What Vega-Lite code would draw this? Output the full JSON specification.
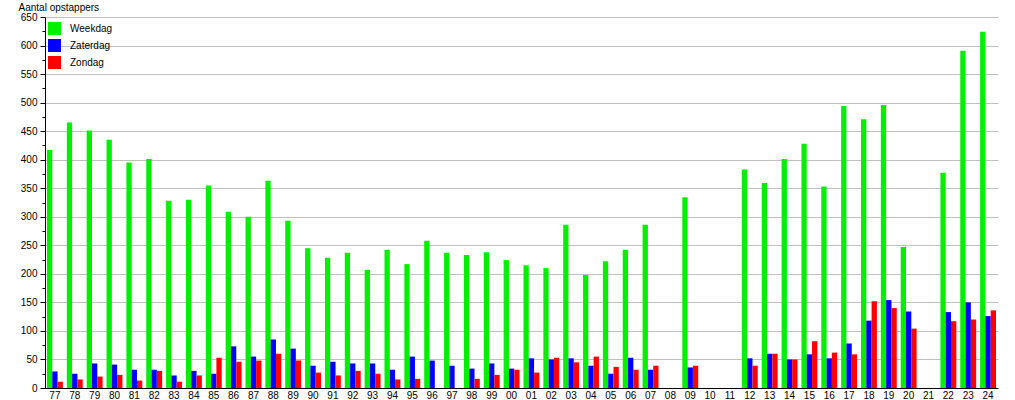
{
  "$schema": "https://vega.github.io/schema/vega-lite/v6.json",
  "width": 953,
  "height": 371,
  "autosize": "none",
  "padding": {"left": 45, "top": 17, "right": 17, "bottom": 12},
  "background": "white",
  "config": {
    "font": "Liberation Sans",
    "view": {"stroke": null},
    "axis": {"labelFont": "Liberation Sans", "titleFont": "Liberation Sans", "labelColor": "black", "titleColor": "black"}
  },
  "data": {
    "values": [
      {"year": "77", "type": "Weekdag", "value": 417}, {"year": "77", "type": "Zaterdag", "value": 29}, {"year": "77", "type": "Zondag", "value": 11},
      {"year": "78", "type": "Weekdag", "value": 465}, {"year": "78", "type": "Zaterdag", "value": 25}, {"year": "78", "type": "Zondag", "value": 15},
      {"year": "79", "type": "Weekdag", "value": 451}, {"year": "79", "type": "Zaterdag", "value": 43}, {"year": "79", "type": "Zondag", "value": 20},
      {"year": "80", "type": "Weekdag", "value": 435}, {"year": "80", "type": "Zaterdag", "value": 41}, {"year": "80", "type": "Zondag", "value": 23},
      {"year": "81", "type": "Weekdag", "value": 395}, {"year": "81", "type": "Zaterdag", "value": 32}, {"year": "81", "type": "Zondag", "value": 13},
      {"year": "82", "type": "Weekdag", "value": 401}, {"year": "82", "type": "Zaterdag", "value": 32}, {"year": "82", "type": "Zondag", "value": 30},
      {"year": "83", "type": "Weekdag", "value": 328}, {"year": "83", "type": "Zaterdag", "value": 22}, {"year": "83", "type": "Zondag", "value": 11},
      {"year": "84", "type": "Weekdag", "value": 330}, {"year": "84", "type": "Zaterdag", "value": 30}, {"year": "84", "type": "Zondag", "value": 22},
      {"year": "85", "type": "Weekdag", "value": 355}, {"year": "85", "type": "Zaterdag", "value": 25}, {"year": "85", "type": "Zondag", "value": 53},
      {"year": "86", "type": "Weekdag", "value": 309}, {"year": "86", "type": "Zaterdag", "value": 73}, {"year": "86", "type": "Zondag", "value": 46},
      {"year": "87", "type": "Weekdag", "value": 300}, {"year": "87", "type": "Zaterdag", "value": 55}, {"year": "87", "type": "Zondag", "value": 48},
      {"year": "88", "type": "Weekdag", "value": 363}, {"year": "88", "type": "Zaterdag", "value": 85}, {"year": "88", "type": "Zondag", "value": 60},
      {"year": "89", "type": "Weekdag", "value": 293}, {"year": "89", "type": "Zaterdag", "value": 69}, {"year": "89", "type": "Zondag", "value": 48},
      {"year": "90", "type": "Weekdag", "value": 245}, {"year": "90", "type": "Zaterdag", "value": 39}, {"year": "90", "type": "Zondag", "value": 27},
      {"year": "91", "type": "Weekdag", "value": 228}, {"year": "91", "type": "Zaterdag", "value": 46}, {"year": "91", "type": "Zondag", "value": 22},
      {"year": "92", "type": "Weekdag", "value": 237}, {"year": "92", "type": "Zaterdag", "value": 43}, {"year": "92", "type": "Zondag", "value": 30},
      {"year": "93", "type": "Weekdag", "value": 207}, {"year": "93", "type": "Zaterdag", "value": 43}, {"year": "93", "type": "Zondag", "value": 25},
      {"year": "94", "type": "Weekdag", "value": 242}, {"year": "94", "type": "Zaterdag", "value": 32}, {"year": "94", "type": "Zondag", "value": 15},
      {"year": "95", "type": "Weekdag", "value": 217}, {"year": "95", "type": "Zaterdag", "value": 55}, {"year": "95", "type": "Zondag", "value": 16},
      {"year": "96", "type": "Weekdag", "value": 258}, {"year": "96", "type": "Zaterdag", "value": 48},
      {"year": "97", "type": "Weekdag", "value": 237}, {"year": "97", "type": "Zaterdag", "value": 39},
      {"year": "98", "type": "Weekdag", "value": 233}, {"year": "98", "type": "Zaterdag", "value": 34}, {"year": "98", "type": "Zondag", "value": 16},
      {"year": "99", "type": "Weekdag", "value": 238}, {"year": "99", "type": "Zaterdag", "value": 43}, {"year": "99", "type": "Zondag", "value": 23},
      {"year": "00", "type": "Weekdag", "value": 224}, {"year": "00", "type": "Zaterdag", "value": 34}, {"year": "00", "type": "Zondag", "value": 32},
      {"year": "01", "type": "Weekdag", "value": 215}, {"year": "01", "type": "Zaterdag", "value": 52}, {"year": "01", "type": "Zondag", "value": 27},
      {"year": "02", "type": "Weekdag", "value": 210}, {"year": "02", "type": "Zaterdag", "value": 50}, {"year": "02", "type": "Zondag", "value": 53},
      {"year": "03", "type": "Weekdag", "value": 286}, {"year": "03", "type": "Zaterdag", "value": 52}, {"year": "03", "type": "Zondag", "value": 45},
      {"year": "04", "type": "Weekdag", "value": 198}, {"year": "04", "type": "Zaterdag", "value": 39}, {"year": "04", "type": "Zondag", "value": 55},
      {"year": "05", "type": "Weekdag", "value": 222}, {"year": "05", "type": "Zaterdag", "value": 25}, {"year": "05", "type": "Zondag", "value": 37},
      {"year": "06", "type": "Weekdag", "value": 242}, {"year": "06", "type": "Zaterdag", "value": 53}, {"year": "06", "type": "Zondag", "value": 32},
      {"year": "07", "type": "Weekdag", "value": 286}, {"year": "07", "type": "Zaterdag", "value": 32}, {"year": "07", "type": "Zondag", "value": 39},
      {"year": "09", "type": "Weekdag", "value": 334}, {"year": "09", "type": "Zaterdag", "value": 36}, {"year": "09", "type": "Zondag", "value": 39},
      {"year": "12", "type": "Weekdag", "value": 383}, {"year": "12", "type": "Zaterdag", "value": 52}, {"year": "12", "type": "Zondag", "value": 39},
      {"year": "13", "type": "Weekdag", "value": 359}, {"year": "13", "type": "Zaterdag", "value": 60}, {"year": "13", "type": "Zondag", "value": 60},
      {"year": "14", "type": "Weekdag", "value": 401}, {"year": "14", "type": "Zaterdag", "value": 50}, {"year": "14", "type": "Zondag", "value": 50},
      {"year": "15", "type": "Weekdag", "value": 428}, {"year": "15", "type": "Zaterdag", "value": 59}, {"year": "15", "type": "Zondag", "value": 82},
      {"year": "16", "type": "Weekdag", "value": 353}, {"year": "16", "type": "Zaterdag", "value": 52}, {"year": "16", "type": "Zondag", "value": 62},
      {"year": "17", "type": "Weekdag", "value": 494}, {"year": "17", "type": "Zaterdag", "value": 78}, {"year": "17", "type": "Zondag", "value": 59},
      {"year": "18", "type": "Weekdag", "value": 471}, {"year": "18", "type": "Zaterdag", "value": 118}, {"year": "18", "type": "Zondag", "value": 152},
      {"year": "19", "type": "Weekdag", "value": 496}, {"year": "19", "type": "Zaterdag", "value": 154}, {"year": "19", "type": "Zondag", "value": 140},
      {"year": "20", "type": "Weekdag", "value": 247}, {"year": "20", "type": "Zaterdag", "value": 134}, {"year": "20", "type": "Zondag", "value": 104},
      {"year": "22", "type": "Weekdag", "value": 377}, {"year": "22", "type": "Zaterdag", "value": 133}, {"year": "22", "type": "Zondag", "value": 117},
      {"year": "23", "type": "Weekdag", "value": 591}, {"year": "23", "type": "Zaterdag", "value": 150}, {"year": "23", "type": "Zondag", "value": 120},
      {"year": "24", "type": "Weekdag", "value": 624}, {"year": "24", "type": "Zaterdag", "value": 126}, {"year": "24", "type": "Zondag", "value": 136}
    ]
  },
  "mark": {"type": "bar"},
  "encoding": {
    "x": {
      "field": "year",
      "type": "nominal",
      "sort": null,
      "scale": {
        "domain": ["77","78","79","80","81","82","83","84","85","86","87","88","89","90","91","92","93","94","95","96","97","98","99","00","01","02","03","04","05","06","07","08","09","10","11","12","13","14","15","16","17","18","19","20","21","22","23","24"],
        "paddingInner": 0.2,
        "paddingOuter": 0.1
      },
      "axis": {
        "title": null,
        "labelAngle": 0,
        "ticks": false,
        "labelFontSize": 10,
        "labelPadding": 2,
        "labelDx": 2.5,
        "domainColor": "black",
        "domainWidth": 1,
        "grid": false
      }
    },
    "xOffset": {
      "field": "type",
      "type": "nominal",
      "sort": ["Weekdag", "Zaterdag", "Zondag"],
      "scale": {"paddingInner": 0, "paddingOuter": 0}
    },
    "y": {
      "field": "value",
      "type": "quantitative",
      "scale": {"domain": [0, 650], "nice": false},
      "axis": {
        "title": "Aantal opstappers",
        "titleAngle": 0,
        "titleAlign": "left",
        "titleBaseline": "alphabetic",
        "titleX": -27,
        "titleY": -7,
        "titleFontSize": 10,
        "titleFontWeight": "normal",
        "values": [0,25,50,75,100,125,150,175,200,225,250,275,300,325,350,375,400,425,450,475,500,525,550,575,600,625,650],
        "labelExpr": "datum.value % 50 === 0 ? datum.label : ''",
        "labelFontSize": 10,
        "labelPadding": 3,
        "tickColor": "black",
        "tickSize": {"condition": {"test": "datum.value % 50 !== 0", "value": 3}, "value": 5},
        "domainColor": "black",
        "domainWidth": 1,
        "grid": true,
        "gridColor": "#c0c0c0",
        "gridOpacity": {"condition": {"test": "datum.value % 50 !== 0 || datum.value === 0", "value": 0}, "value": 1}
      }
    },
    "color": {
      "field": "type",
      "type": "nominal",
      "scale": {"domain": ["Weekdag", "Zaterdag", "Zondag"], "range": ["#00f000", "#0000ff", "#ff0000"]},
      "legend": {
        "title": null,
        "orient": "none",
        "legendX": 3,
        "legendY": 5,
        "padding": 0,
        "symbolType": "square",
        "symbolSize": 169,
        "symbolStrokeWidth": 0,
        "symbolOpacity": 1,
        "labelFontSize": 10,
        "labelOffset": 9,
        "labelColor": "black",
        "rowPadding": 4
      }
    }
  }
}
